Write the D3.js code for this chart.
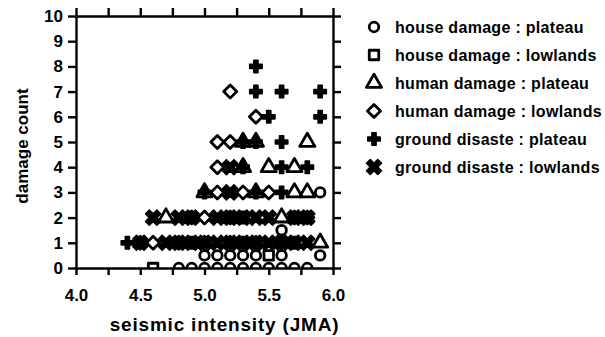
<!DOCTYPE html>
<html>
<head>
<meta charset="utf-8">
<script src="https://cdn.jsdelivr.net/npm/d3@7"></script>
<style>
  body { margin: 0; background: #fff; }
  text { font-family: "Liberation Sans", Arial, Helvetica, sans-serif; fill: #000; }
</style>
</head>
<body>
<div id="chart"></div>
<script>
// series labels, in legend order
const seriesNames = [
  "house damage : plateau",
  "house damage : lowlands",
  "human damage : plateau",
  "human damage : lowlands",
  "ground disaste : plateau",
  "ground disaste : lowlands"
];

// [seismic intensity, damage count]
const houseDamagePlateau = [
  [4.8, 0], [4.9, 0], [5.0, 0], [5.1, 0], [5.2, 0], [5.3, 0], [5.4, 0], [5.5, 0], [5.6, 0], [5.7, 0], [5.8, 0],
  [5.0, 0.5], [5.1, 0.5], [5.2, 0.5], [5.3, 0.5], [5.4, 0.5], [5.6, 0.5], [5.9, 0.5],
  [5.6, 1.5], [5.9, 3]
];
const houseDamageLowlands = [[4.6, 0], [5.5, 0.5]];
const humanDamagePlateau = [
  [5.9, 1], [4.7, 2], [5.6, 2],
  [5.0, 3], [5.4, 3], [5.7, 3], [5.8, 3],
  [5.3, 4], [5.5, 4], [5.7, 4],
  [5.3, 5], [5.4, 5], [5.8, 5]
];
const humanDamageLowlands = [
  [4.5, 1], [4.6, 1], [4.8, 1], [5.0, 1], [5.2, 1], [5.4, 1], [5.6, 1],
  [4.9, 2], [5.0, 2], [5.2, 2], [5.7, 2], [5.8, 2],
  [5.1, 3], [5.3, 3], [5.5, 3],
  [5.1, 4], [5.1, 5], [5.2, 5], [5.4, 6], [5.2, 7]
];
const groundPlateau = [
  [4.4, 1], [4.9, 1], [5.3, 1], [5.7, 1], [5.3, 2],
  [5.0, 3], [5.4, 3], [5.6, 3],
  [5.3, 4], [5.6, 4], [5.8, 4],
  [5.3, 5], [5.4, 5], [5.6, 5],
  [5.5, 6], [5.9, 6],
  [5.4, 7], [5.6, 7], [5.9, 7], [5.4, 8]
];
const groundLowlands = [
  [4.5, 1], [4.7, 1], [4.8, 1], [4.9, 1], [5.0, 1], [5.1, 1], [5.2, 1], [5.3, 1], [5.4, 1], [5.5, 1], [5.6, 1], [5.7, 1], [5.8, 1],
  [4.6, 2], [4.8, 2], [4.9, 2], [5.1, 2], [5.2, 2], [5.3, 2], [5.4, 2], [5.5, 2], [5.7, 2], [5.8, 2],
  [5.2, 3], [5.2, 4]
];

const xTicks = [4.0, 4.25, 4.5, 4.75, 5.0, 5.25, 5.5, 5.75, 6.0];
const xLabelTicks = [4.0, 4.5, 5.0, 5.5, 6.0];
const yTicks = [0, 1, 2, 3, 4, 5, 6, 7, 8, 9, 10];

const allSeries = [houseDamagePlateau, houseDamageLowlands, humanDamagePlateau,
                   humanDamageLowlands, groundPlateau, groundLowlands];

// marker look for each series
const markerStyle = [
  { type: d3.symbolCircle,   size: 72,  rot: 0,  filled: false },
  { type: d3.symbolSquare,   size: 90,  rot: 0,  filled: false },
  { type: d3.symbolTriangle, size: 100, rot: 0,  filled: false },
  { type: d3.symbolSquare,   size: 85,  rot: 45, filled: false },
  { type: d3.symbolCross,    size: 85,  rot: 0,  filled: true },
  { type: d3.symbolCross,    size: 140, rot: 45, filled: true }
];

const svgWidth = 605, svgHeight = 337;
const margin = { top: 16, right: 272, bottom: 69, left: 76 };
const width = svgWidth - margin.left - margin.right;
const height = svgHeight - margin.top - margin.bottom;

const svg = d3.select("#chart").append("svg")
  .attr("width", svgWidth)
  .attr("height", svgHeight);

const g = svg.append("g")
  .attr("transform", `translate(${margin.left},${margin.top})`);

const x = d3.scaleLinear().domain([4.0, 6.0]).range([0, width]);
const y = d3.scaleLinear().domain([0, 10]).range([height, 0]);

// clip so markers sitting on 0 are cut by the axis
svg.append("defs").append("clipPath").attr("id", "plotClip")
  .append("rect").attr("x", 0).attr("y", 0).attr("width", width).attr("height", height);

function styleMarker(sel, st) {
  sel.attr("d", d3.symbol().type(st.type).size(st.size))
    .attr("fill", st.filled ? "#000" : "none")
    .attr("stroke", "#000")
    .attr("stroke-width", st.filled ? 1.6 : 2.8)
    .attr("stroke-linejoin", "round");
}

const marks = g.append("g").attr("clip-path", "url(#plotClip)");
allSeries.forEach(function(data, i) {
  const st = markerStyle[i];
  marks.append("g").selectAll("path")
    .data(data)
    .enter().append("path")
    .attr("transform", d => `translate(${x(d[0])},${y(d[1])}) rotate(${st.rot})`)
    .call(styleMarker, st);
});

// axes
const fmt = d3.format(".1f");
const xAxisB = g.append("g")
  .attr("transform", `translate(0,${height})`)
  .call(d3.axisBottom(x).tickValues(xTicks).tickSize(7).tickSizeOuter(0).tickPadding(14)
    .tickFormat(d => xLabelTicks.includes(d) ? fmt(d) : ""));
const xAxisT = g.append("g")
  .call(d3.axisTop(x).tickValues(xTicks).tickSize(8).tickSizeOuter(0).tickFormat(""));
const yAxisL = g.append("g")
  .call(d3.axisLeft(y).tickValues(yTicks).tickSize(8).tickSizeOuter(0).tickPadding(5));
const yAxisR = g.append("g")
  .attr("transform", `translate(${width},0)`)
  .call(d3.axisRight(y).tickValues(yTicks).tickSize(8).tickSizeOuter(0).tickFormat(""));

[xAxisB, xAxisT, yAxisL, yAxisR].forEach(function(a) {
  a.selectAll("path, line").attr("stroke", "#000").attr("stroke-width", 2.4);
  a.selectAll("text")
    .style("font-family", '"Liberation Sans", Arial, sans-serif')
    .style("font-size", "17px")
    .style("font-weight", "bold")
    .attr("fill", "#000");
});

// axis titles
g.append("text")
  .attr("x", (x(4.0) + x(6.0)) / 2 + 20)
  .attr("y", height + 63)
  .style("text-anchor", "middle")
  .style("font-size", "19px")
  .style("font-weight", "bold")
  .style("letter-spacing", "0.8px")
  .text("seismic  intensity (JMA)");

g.append("text")
  .attr("transform", "rotate(-90)")
  .attr("x", -(y(5.0) + 4))
  .attr("y", -margin.left + 28)
  .style("text-anchor", "middle")
  .style("font-size", "17px")
  .style("font-weight", "bold")
  .text("damage count");

// legend
const legend = svg.append("g").attr("transform", "translate(374,27)");
seriesNames.forEach(function(name, i) {
  const st = markerStyle[i];
  const row = legend.append("g").attr("transform", `translate(0,${i * 28})`);
  row.append("path")
    .attr("transform", `rotate(${st.rot})`)
    .call(styleMarker, st);
  row.append("text")
    .attr("x", 21)
    .attr("y", 6)
    .style("font-size", "16px")
    .style("font-weight", "bold")
    .style("letter-spacing", "0.3px")
    .text(name);
});
</script>
</body>
</html>
